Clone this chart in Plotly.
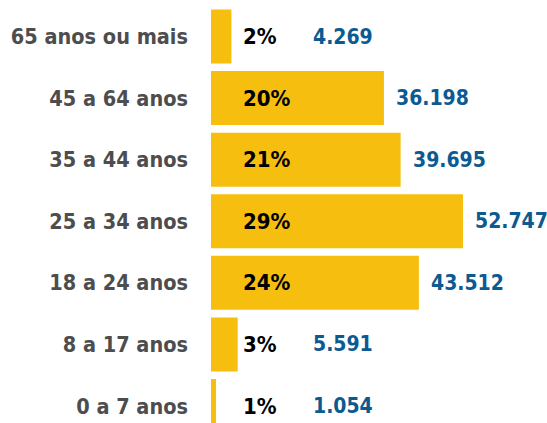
import plotly.graph_objects as go

categories = ["0 a 7 anos", "8 a 17 anos", "18 a 24 anos", "25 a 34 anos",
              "35 a 44 anos", "45 a 64 anos", "65 anos ou mais"]
values = [1054, 5591, 43512, 52747, 39695, 36198, 4269]
percents = ["1%", "3%", "24%", "29%", "21%", "20%", "2%"]
value_labels = ["1.054", "5.591", "43.512", "52.747", "39.695", "36.198", "4.269"]

BAR_COLOR = "#f6be0e"
CAT_COLOR = "#4d4d4d"
VAL_COLOR = "#0b5a91"
FONT = "DejaVu Sans Condensed, DejaVu Sans, sans-serif"
LABEL_MIN = 18800  # minimum x for the value labels (layout constant)

fig = go.Figure()
fig.add_trace(go.Bar(
    x=values, y=list(range(len(categories))), orientation="h",
    marker=dict(color=BAR_COLOR, line=dict(width=0)),
    hoverinfo="skip",
))

for i, (v, p, vl) in enumerate(zip(values, percents, value_labels)):
    fig.add_annotation(x=0, y=i, text=p, xanchor="left", yanchor="middle",
                       xshift=30, showarrow=False,
                       font=dict(family=FONT, size=22, color="#000000", weight="bold"))
    fig.add_annotation(x=max(v, LABEL_MIN), y=i, text=vl, xanchor="left", yanchor="middle",
                       xshift=10, showarrow=False,
                       font=dict(family=FONT, size=21, color=VAL_COLOR, weight="bold"))

fig.update_layout(
    width=547, height=423,
    margin=dict(l=211, r=0, t=0, b=0),
    paper_bgcolor="white", plot_bgcolor="white",
    bargap=0.123, showlegend=False,
    xaxis=dict(range=[0, 70330], visible=False, fixedrange=True),
    yaxis=dict(range=[-0.276, 6.593], tickmode="array",
               tickvals=list(range(len(categories))), ticktext=categories,
               ticks="", showgrid=False, zeroline=False, showline=False,
               ticklabelstandoff=22, fixedrange=True,
               tickfont=dict(family=FONT, size=21.5, color=CAT_COLOR, weight="bold")),
)

fig.write_html("out.html", config={"displayModeBar": False},
               post_script="document.body.style.margin='0';document.body.style.overflow='hidden';")
